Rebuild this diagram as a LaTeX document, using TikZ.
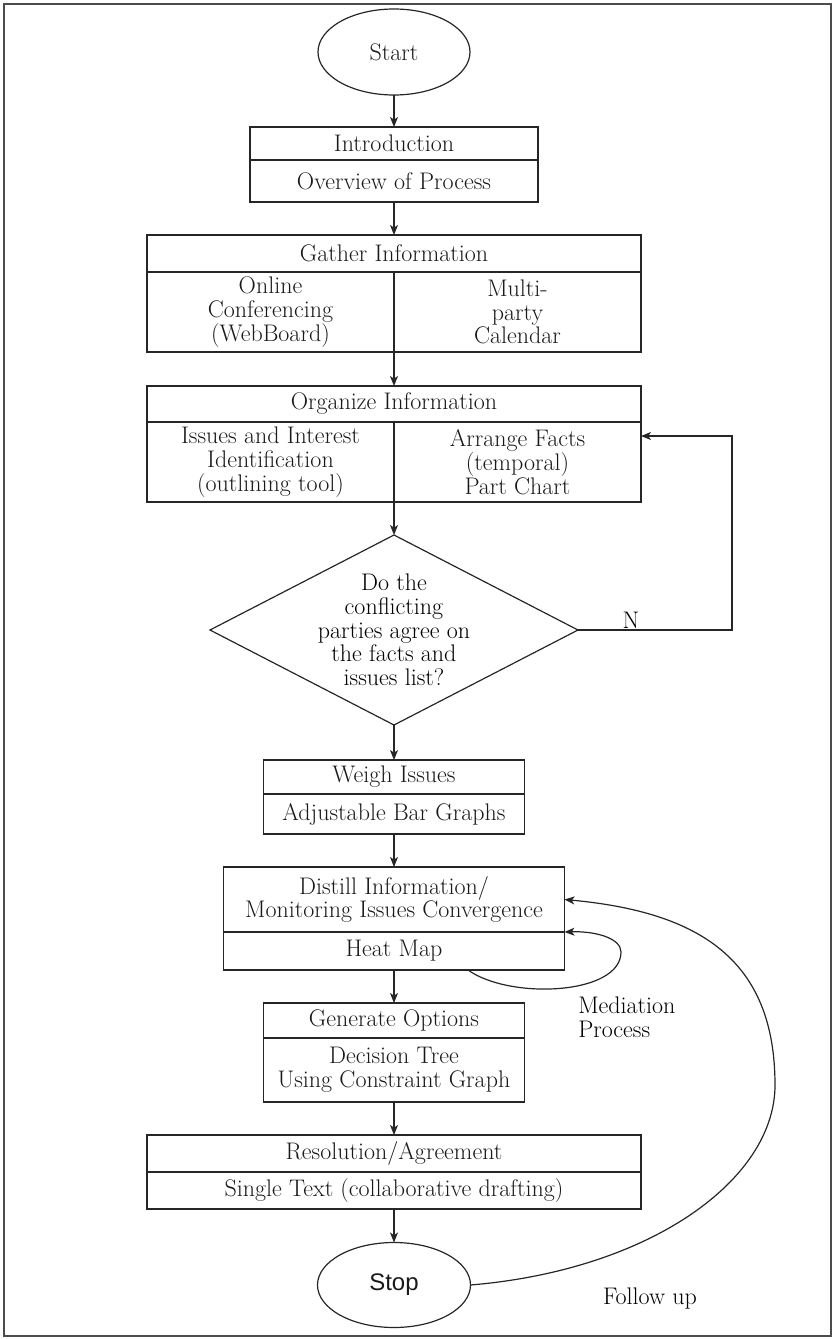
\documentclass[tikz,border=0pt]{standalone}
\usepackage{fontspec}
\setsansfont{Liberation Sans}
\usetikzlibrary{positioning,shapes.geometric,arrows.meta}

\newcommand{\chartfont}{\fontsize{18}{17.8}\selectfont\setlength{\lineskiplimit}{-20pt}}

\tikzset{
  box/.style={draw=black!85, line width=0.9pt, rectangle, inner sep=0pt, outer sep=0pt, align=center, text=black!90},
  terminal/.style={draw=black!85, line width=0.9pt, ellipse, inner sep=0pt, outer sep=0pt, text=black!90},
  decision/.style={draw=black!85, line width=0.9pt, diamond, inner sep=0pt, outer sep=0pt},
  flow/.style={draw=black!85, line width=0.9pt, -{Stealth[length=7.5pt,width=6pt,inset=2pt]}},
}

\begin{document}
\begin{tikzpicture}[x=0.75pt,y=0.75pt,yscale=-1,xscale=1, font=\chartfont]
        \useasboundingbox (0,0) rectangle (834,1339);
        %Frame
        \draw [line width=1.4pt, draw=black!70] (4,4) rectangle (831,1336);

        %Start / Stop
        \node [terminal, minimum width=114pt, minimum height=64.5pt] (start) at (394,52) {Start};
        \node [terminal, minimum width=114.75pt, minimum height=63.75pt, font=\sffamily\fontsize{18}{20}\selectfont] (stop) at (394,1285) {Stop};

        %Introduction
        \node [box, minimum width=216pt, minimum height=24.75pt, anchor=north] (introT) at (394,127) {Introduction};
        \node [box, minimum width=216pt, minimum height=31.5pt, below=0pt of introT] (introB) {Overview of Process};

        %Gather Information
        \node [box, minimum width=370.5pt, minimum height=27.75pt, anchor=north] (gatherT) at (394,235) {Gather Information};
        \node [box, minimum width=185.25pt, minimum height=60pt, anchor=north east] (gatherL) at (gatherT.south) {Online\\Conferencing\\(WebBoard)};
        \node [box, minimum width=185.25pt, minimum height=60pt, anchor=north west] (gatherR) at (gatherT.south) {Multi-\\party\\Calendar};

        %Organize Information
        \node [box, minimum width=370.5pt, minimum height=27pt, anchor=north] (orgT) at (394,386) {Organize Information};
        \node [box, minimum width=185.25pt, minimum height=60pt, anchor=north east] (orgL) at (orgT.south) {Issues and Interest\\Identification\\(outlining tool)};
        \node [box, minimum width=185.25pt, minimum height=60pt, anchor=north west] (orgR) at (orgT.south) {Arrange Facts\\(temporal)\\Part Chart};

        %Decision
        \node [decision, minimum width=276pt, minimum height=142.5pt] (ask) at (394,630) {};
        \node [align=center, inner sep=0pt] (askText) at (ask.center) {Do the\\conflicting\\parties agree on\\the facts and\\issues list?};

        %Weigh Issues
        \node [box, minimum width=195.75pt, minimum height=25.5pt, anchor=north] (weighT) at (394,760) {Weigh Issues};
        \node [box, minimum width=195.75pt, minimum height=30pt, below=0pt of weighT] (weighB) {Adjustable Bar Graphs};

        %Distill Information
        \node [box, minimum width=255.75pt, minimum height=48.75pt, anchor=north] (distT) at (394,867) {Distill Information/\\Monitoring Issues Convergence};
        \node [box, minimum width=255.75pt, minimum height=28.5pt, below=0pt of distT] (distB) {Heat Map};

        %Generate Options
        \node [box, minimum width=195.75pt, minimum height=26.25pt, anchor=north] (genT) at (394,1003) {Generate Options};
        \node [box, minimum width=195.75pt, minimum height=48pt, below=0pt of genT] (genB) {Decision Tree\\Using Constraint Graph};

        %Resolution
        \node [box, minimum width=370.5pt, minimum height=27.75pt, anchor=north] (resT) at (394,1135) {Resolution/Agreement};
        \node [box, minimum width=370.5pt, minimum height=27.75pt, below=0pt of resT] (resB) {Single Text (collaborative drafting)};

        %Main flow
        \draw [flow] (start) -- (introT);
        \draw [flow] (introB) -- (gatherT);
        \draw [flow] (gatherL.south east) -- (orgT.north);
        \draw [flow] (orgL.south east) -- (ask.north);
        \draw [flow] (ask.south) -- (weighT.north);
        \draw [flow] (weighB) -- (distT);
        \draw [flow] (distB) -- (genT);
        \draw [flow] (genB) -- (resT);
        \draw [flow] (resB) -- (stop);

        %Feedback N
        \coordinate (fbTurn) at (732,436);
        \draw [flow] (ask.east) -| (fbTurn) -- (orgR.east |- fbTurn);
        \node (nText) at (631,620) {N};

        %Mediation loop
        \coordinate (medStart) at (468,970);
        \draw [flow] (medStart) .. controls (510,1000) and (621,995) .. (621,952) .. controls (621,938) and (595,931) .. (distB.north east);
        \node [anchor=north west, align=left, inner sep=0pt] (medLabel) at (578,997) {Mediation\\Process};

        %Follow up
        \draw [flow] (stop.east) .. controls (650,1270) and (775,1180) .. (775,1085) .. controls (775,960) and (700,912) .. (distT.east);
        \node (followLabel) at (650,1298) {Follow up};
\end{tikzpicture}
\end{document}
